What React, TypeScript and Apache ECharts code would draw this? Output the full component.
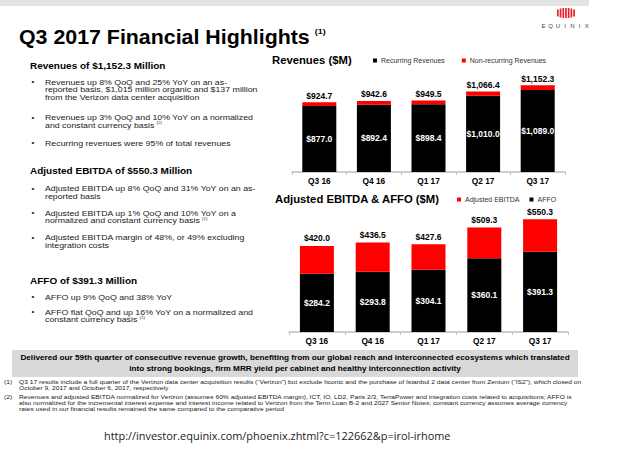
import React, { useEffect, useRef } from "react";
import * as echarts from "echarts";

const quarters = ["Q3 16", "Q4 16", "Q1 17", "Q2 17", "Q3 17"];
const recurringRevenues = [877.0, 892.4, 898.4, 1010.0, 1089.0];
const totalRevenues = [924.7, 942.6, 949.5, 1066.4, 1152.3];
const affo = [284.2, 293.8, 304.1, 360.1, 391.3];
const adjustedEbitda = [420.0, 436.5, 427.6, 509.3, 550.3];

const FONT = "'Liberation Sans', Arial, sans-serif";
const SY = 0.9;

const fmt = (v: number) =>
  "$" + v.toLocaleString("en-US", { minimumFractionDigits: 1, maximumFractionDigits: 1 });

const titleText = "Q3 2017 Financial Highlights";

const leftLines: { y: number; t: string; k: "h" | "b" | "c"; sup?: string }[] = [
  { y: 65.7, t: "Revenues of $1,152.3 Million", k: "h" },
  { y: 81.7, t: "Revenues up 8% QoQ and 25% YoY on an as-", k: "b" },
  { y: 89.3, t: "reported basis, $1,015 million organic and $137 million", k: "c" },
  { y: 97, t: "from the Verizon data center acquisition", k: "c" },
  { y: 117.3, t: "Revenues up 3% QoQ and 10% YoY on a normalized", k: "b" },
  { y: 125, t: "and constant currency basis", k: "c", sup: "(2)" },
  { y: 143, t: "Recurring revenues were 95% of total revenues", k: "b" },
  { y: 170.7, t: "Adjusted EBITDA of $550.3 Million", k: "h" },
  { y: 188.3, t: "Adjusted EBITDA up 8% QoQ and 31% YoY on an as-", k: "b" },
  { y: 196, t: "reported basis", k: "c" },
  { y: 212.7, t: "Adjusted EBITDA up 1% QoQ and 10% YoY on a", k: "b" },
  { y: 220.5, t: "normalized and constant currency basis", k: "c", sup: "(2)" },
  { y: 237.3, t: "Adjusted EBITDA margin of 48%, or 49% excluding", k: "b" },
  { y: 245, t: "integration costs", k: "c" },
  { y: 281, t: "AFFO of $391.3 Million", k: "h" },
  { y: 296.7, t: "AFFO up 9% QoQ and 38% YoY", k: "b" },
  { y: 311.7, t: "AFFO flat QoQ and up 16% YoY on a normalized and", k: "b" },
  { y: 319.3, t: "constant currency basis", k: "c", sup: "(2)" },
];

const bannerLines = [
  "Delivered our 59th quarter of consecutive revenue growth, benefiting from our global reach and interconnected ecosystems which translated",
  "into strong bookings, firm MRR yield per cabinet and healthy interconnection activity",
];

const footnotes: { y: number; t: string; n?: string }[] = [
  { y: 381.5, n: "(1)", t: "Q3 17 results include a full quarter of the Verizon data center acquisition results (\u201CVerizon\u201D) but exclude Itconic and the purchase of Istanbul 2 data center from Zenium (\u201CIS2\u201D), which closed on" },
  { y: 387.5, t: "October 9, 2017 and October 6, 2017, respectively" },
  { y: 396.5, n: "(2)", t: "Revenues and adjusted EBITDA normalized for Verizon (assumes 60% adjusted EBITDA margin), ICT, IO, LD2, Paris 2/3, TerraPower and integration costs related to acquisitions; AFFO is" },
  { y: 402.5, t: "also normalized for the incremental interest expense and interest income related to Verizon from the Term Loan B-2 and 2027 Senior Notes; constant currency assumes average currency" },
  { y: 408.5, t: "rates used in our financial results remained the same compared to the comparative period" },
];

const urlText = "http://investor.equinix.com/phoenix.zhtml?c=122662&p=irol-irhome";

export default function App() {
  const ref = useRef<HTMLDivElement>(null);
  useEffect(() => {
    const el = ref.current!;
    const chart = echarts.init(el, null, { renderer: "svg" });
    const canvas = document.createElement("canvas");
    const ctx = canvas.getContext("2d")!;
    const measure = (t: string, size: number, bold: boolean, family = FONT) => {
      ctx.font = `${bold ? "bold " : ""}${size}px ${family}`;
      return ctx.measureText(t).width;
    };
    const fit = (t: string, target: number, bold: boolean, family = FONT) =>
      (target / measure(t, 100, bold, family)) * 100;

    const txt = (x: number, y: number, t: string, size: number, o: any = {}) => ({
      type: "text",
      x,
      y,
      scaleY: o.sy ?? SY,
      silent: true,
      z: 10,
      style: {
        text: t,
        fontSize: size,
        fontFamily: o.family || FONT,
        fontWeight: o.bold ? "bold" : "normal",
        fill: o.fill || "#111",
        textAlign: o.align || "left",
        textVerticalAlign: "middle",
      },
    });

    const g: any[] = [];
    g.push({ type: "rect", shape: { x: 0, y: 0, width: 589, height: 6 }, style: { fill: "#e3e3e3" }, silent: true });
    const stripeH = [7, 9, 10, 10, 10, 9, 7];
    stripeH.forEach((h, i) => {
      g.push({ type: "rect", shape: { x: 557 + i * 2.7, y: 13 - h / 2, width: 1.7, height: h }, style: { fill: "#e8202a" }, silent: true });
    });
    "EQUINIX".split("").forEach((c, i) => {
      g.push(txt(543.5 + i * 7.2, 26, c, 6, { fill: "#444", align: "center", sy: 1 }));
    });
    const tSize = fit(titleText, 291, true);
    g.push(txt(19, 37, titleText, tSize, { bold: true, fill: "#000", sy: 0.92 }));
    g.push(txt(19 + measure(titleText, tSize, true) + 5, 31, "(1)", 9, { bold: true, fill: "#000" }));

    leftLines.forEach((l) => {
      if (l.k === "h") {
        g.push(txt(30, l.y, l.t, 10, { bold: true, fill: "#000" }));
      } else {
        if (l.k === "b") g.push(txt(31.5, l.y, "\u2022", 8, { fill: "#222" }));
        g.push(txt(45, l.y, l.t, 8.8, { fill: "#1a1a1a" }));
        if (l.sup) g.push(txt(45 + measure(l.t, 8.8, false) + 2, l.y - 2, l.sup, 4.5, { fill: "#333" }));
      }
    });

    g.push(txt(272, 60, "Revenues ($M)", 11.3, { bold: true, fill: "#000" }));
    g.push(txt(275, 199, "Adjusted EBITDA & AFFO ($M)", 11.3, { bold: true, fill: "#000" }));

    g.push({ type: "rect", shape: { x: 12, y: 350, width: 566, height: 27 }, style: { fill: "#d9d9d9" }, silent: true });
    const bSize = fit(bannerLines[0], 550, true);
    g.push(txt(295, 358, bannerLines[0], bSize, { bold: true, fill: "#000", align: "center" }));
    g.push(txt(295, 369, bannerLines[1], bSize, { bold: true, fill: "#000", align: "center" }));

    const fSize = fit(footnotes[0].t, 563, false);
    footnotes.forEach((f) => {
      if (f.n) g.push(txt(4, f.y, f.n, fSize, { fill: "#222" }));
      g.push(txt(19, f.y, f.t, fSize, { fill: "#222" }));
    });

    const uFam = "'Open Sans', sans-serif";
    const uSize = fit(urlText, 347, false, uFam);
    g.push(txt(104, 436, urlText, uSize, { fill: "#222", family: uFam, sy: 0.95 }));

    const nonRecurring = totalRevenues.map((t, i) => Math.round((t - recurringRevenues[i]) * 10) / 10);
    const ebitdaExcess = adjustedEbitda.map((t, i) => Math.round((t - affo[i]) * 10) / 10);

    const insideLabel = (arr: number[]) => ({
      show: true,
      position: "inside",
      color: "#fff",
      fontWeight: "bold",
      fontSize: 8.5,
      fontFamily: FONT,
      formatter: (p: any) => fmt(arr[p.dataIndex]),
    });
    const topLabel = (arr: number[], d: number) => ({
      show: true,
      position: "top",
      distance: d,
      color: "#000",
      fontWeight: "bold",
      fontSize: 8.5,
      fontFamily: FONT,
      formatter: (p: any) => fmt(arr[p.dataIndex]),
    });

    const legendBase = {
      orient: "horizontal",
      icon: "rect",
      itemWidth: 4,
      itemHeight: 4,
      padding: 0,
      textStyle: { fontSize: 7, color: "#333", fontFamily: FONT, padding: [0, 0, 0, -1] },
    };

    const option: any = {
      animation: false,
      backgroundColor: "#fff",
      textStyle: { fontFamily: FONT },
      legend: [
        { ...legendBase, data: ["Recurring Revenues", "Non-recurring Revenues"], left: 373, top: 57, itemGap: 17 },
        { ...legendBase, data: ["Adjusted EBITDA", "AFFO"], left: 457, top: 196, itemGap: 10 },
      ],
      grid: [
        { left: 292, top: 74, width: 273, height: 98 },
        { left: 289, top: 209, width: 279, height: 123 },
      ],
      xAxis: [0, 1].map((i) => ({
        type: "category",
        gridIndex: i,
        data: quarters,
        axisLine: { lineStyle: { color: "#bfbfbf", width: 1.5 } },
        axisTick: { show: true, length: 3, lineStyle: { color: "#bfbfbf" } },
        axisLabel: { color: "#000", fontWeight: "bold", fontSize: 8.3, margin: 5, fontFamily: FONT },
      })),
      yAxis: [
        { type: "value", gridIndex: 0, min: 0, max: 1300, show: false },
        { type: "value", gridIndex: 1, min: 0, max: 600, show: false },
      ],
      series: [
        {
          name: "Recurring Revenues",
          type: "bar",
          xAxisIndex: 0,
          yAxisIndex: 0,
          stack: "rev",
          barWidth: 34,
          data: recurringRevenues,
          itemStyle: { color: "#000" },
          label: insideLabel(recurringRevenues),
        },
        {
          name: "Non-recurring Revenues",
          type: "bar",
          xAxisIndex: 0,
          yAxisIndex: 0,
          stack: "rev",
          barWidth: 34,
          data: nonRecurring,
          itemStyle: { color: "#ff0000" },
          label: topLabel(totalRevenues, 2),
        },
        {
          name: "AFFO",
          type: "bar",
          xAxisIndex: 1,
          yAxisIndex: 1,
          stack: "eb",
          barWidth: 34,
          data: affo,
          itemStyle: { color: "#000" },
          label: insideLabel(affo),
        },
        {
          name: "Adjusted EBITDA",
          type: "bar",
          xAxisIndex: 1,
          yAxisIndex: 1,
          stack: "eb",
          barWidth: 34,
          data: ebitdaExcess,
          itemStyle: { color: "#ff0000" },
          label: topLabel(adjustedEbitda, 3),
        },
      ],
      graphic: { elements: g },
    };
    chart.setOption(option);
    return () => chart.dispose();
  }, []);
  return (
    <div
      ref={ref}
      style={{ position: "absolute", left: 0, top: 0, width: 640, height: 454, background: "#fff" }}
    />
  );
}
